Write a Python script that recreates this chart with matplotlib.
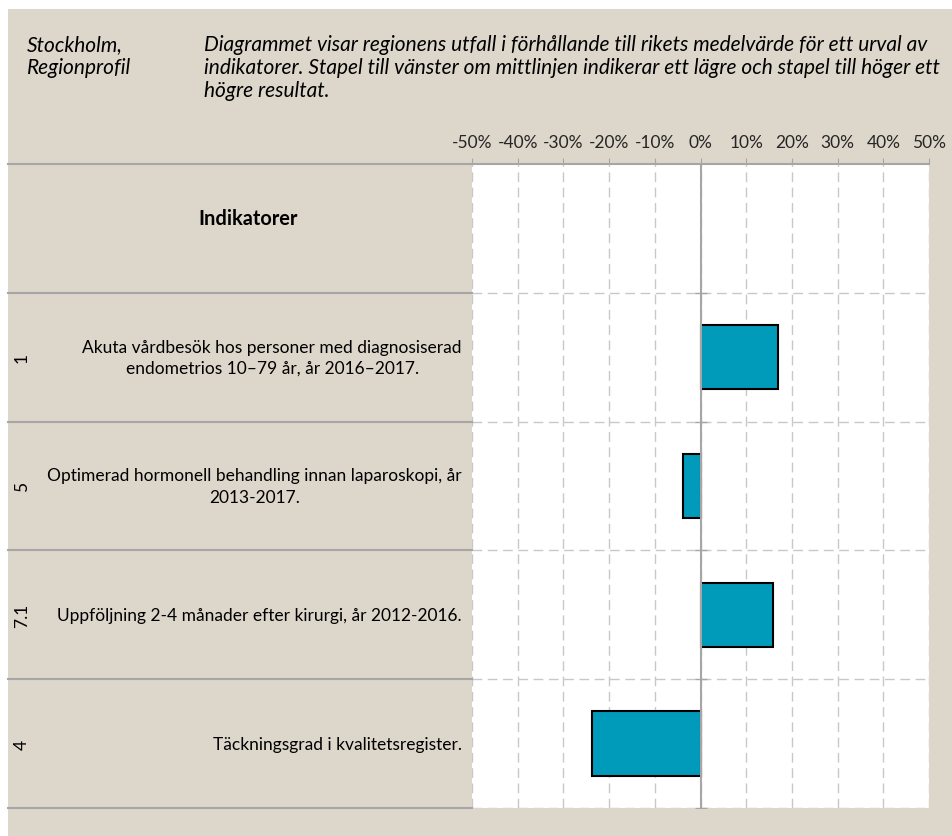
import numpy as np
import matplotlib.pyplot as plt
from matplotlib.patches import Rectangle

plt.rcParams['font.family'] = ['Lato', 'DejaVu Sans']

# data
codes = ['1', '5', '7.1', '4']
labels = ['Akuta vårdbesök hos personer med diagnosiserad\nendometrios 10–79 år, år 2016–2017.',
          'Optimerad hormonell behandling innan laparoskopi, år\n2013-2017.',
          'Uppföljning 2-4 månader efter kirurgi, år 2012-2016.',
          'Täckningsgrad i kvalitetsregister.']
values = [17.0, -3.8, 15.9, -23.7]
xticks = [-50, -40, -30, -20, -10, 0, 10, 20, 30, 40, 50]
xticklabels = ['%d%%' % t for t in xticks]

region = 'Stockholm,\nRegionprofil'
desc = ('Diagrammet visar regionens utfall i förhållande till rikets medelvärde för ett urval av\n'
        'indikatorer. Stapel till vänster om mittlinjen indikerar ett lägre och stapel till höger ett\n'
        'högre resultat.')

W, H = 953, 837
beige = '#ddd6cb'
gridc = '#c8c8c8'
linec = '#a6a6a6'
barc = '#009bbb'

fig = plt.figure(figsize=(W / 100, H / 100), dpi=100)
fig.patch.set_facecolor('white')
fig.patches.append(Rectangle((8 / W, 0), 1 - 8 / W, 1 - 10 / H, transform=fig.transFigure,
                             facecolor=beige, edgecolor='none', zorder=-5))

x0, x1, y0, y1 = 472, 929, 165, 809
ax = fig.add_axes([x0 / W, 1 - y1 / H, (x1 - x0) / W, (y1 - y0) / H])
ax.set_facecolor('white')

ypos = np.arange(1, len(values) + 1) + 0.5
ax.barh(ypos, values, height=0.5, color=barc, edgecolor='black', linewidth=1.5, zorder=3)

ax.set_xlim(-50, 50)
ax.set_ylim(len(values) + 1, 0)
ax.xaxis.tick_top()
ax.set_xticks(xticks)
ax.set_xticklabels(xticklabels, fontsize=12.5, color='#262626')
ax.tick_params(axis='x', length=4, color=linec, pad=6)
ax.set_yticks([])
ax.xaxis.grid(True, ls=(0, (7, 4)), color=gridc, lw=1)
ax.set_axisbelow(True)
for s in ['left', 'right', 'bottom']:
    ax.spines[s].set_visible(False)
ax.spines['top'].set_color(linec)
ax.spines['top'].set_linewidth(1.5)

# row separators
for yy in range(1, len(values) + 2):
    ax.axhline(yy, ls=(0, (7, 4)), color=gridc, lw=1, zorder=1)
ax.axvline(0, color=linec, lw=1.5, zorder=4)
ax.plot([0] * (len(values) + 1), range(1, len(values) + 2), ls='none', marker='_',
        ms=8, color=linec, zorder=4)

tr = ax.get_yaxis_transform()
left = (8 - x0) / (x1 - x0)
for yy in range(0, len(values) + 2):
    ax.plot([left, 0], [yy, yy], color=linec, lw=1.5, transform=tr, clip_on=False)

ax.text((248 - x0) / (x1 - x0), 0.42, 'Indikatorer', transform=tr, ha='center', va='center',
        fontsize=14.4, fontweight='bold')
for y, c, lab in zip(ypos, codes, labels):
    ax.text((462 - x0) / (x1 - x0), y, lab, transform=tr, ha='right', va='center',
            multialignment='center', fontsize=12.5, linespacing=1.4)
    ax.text((22 - x0) / (x1 - x0), y, c, transform=tr, ha='center', va='center',
            rotation=90, fontsize=12.5)

fig.text(27 / W, 1 - 35 / H, region, ha='left', va='top', fontsize=15, style='italic',
         linespacing=1.2)
fig.text(204 / W, 1 - 35 / H, desc, ha='left', va='top', fontsize=15, style='italic',
         linespacing=1.2)

fig.savefig('out.png', dpi=100)
